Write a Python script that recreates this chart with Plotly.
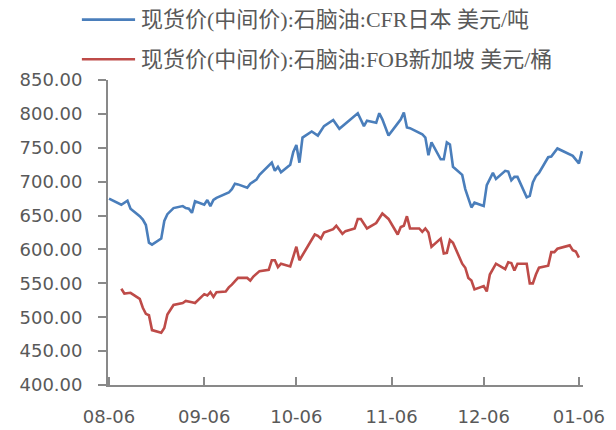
import plotly.graph_objects as go

# ---- data ----
cfr_japan_dates = [
    "2021-08-06", "2021-08-10", "2021-08-12", "2021-08-13", "2021-08-16", "2021-08-17",
    "2021-08-18", "2021-08-19", "2021-08-20", "2021-08-23", "2021-08-24", "2021-08-25",
    "2021-08-27", "2021-08-30", "2021-08-31", "2021-09-01", "2021-09-02", "2021-09-03",
    "2021-09-06", "2021-09-07", "2021-09-08", "2021-09-09", "2021-09-10", "2021-09-14",
    "2021-09-15", "2021-09-16", "2021-09-17", "2021-09-20", "2021-09-21", "2021-09-23",
    "2021-09-24", "2021-09-28", "2021-09-29", "2021-09-30", "2021-10-01", "2021-10-04",
    "2021-10-05", "2021-10-06", "2021-10-07", "2021-10-08", "2021-10-11", "2021-10-13",
    "2021-10-15", "2021-10-18", "2021-10-20", "2021-10-22", "2021-10-26", "2021-10-28",
    "2021-10-29", "2021-11-01", "2021-11-02", "2021-11-03", "2021-11-05", "2021-11-08",
    "2021-11-09", "2021-11-10", "2021-11-11", "2021-11-12", "2021-11-16", "2021-11-17",
    "2021-11-18", "2021-11-19", "2021-11-22", "2021-11-23", "2021-11-24", "2021-11-25",
    "2021-11-26", "2021-11-29", "2021-11-30", "2021-12-02", "2021-12-03", "2021-12-06",
    "2021-12-07", "2021-12-09", "2021-12-10", "2021-12-13", "2021-12-14", "2021-12-15",
    "2021-12-16", "2021-12-17", "2021-12-20", "2021-12-21", "2021-12-22", "2021-12-23",
    "2021-12-24", "2021-12-27", "2021-12-28", "2021-12-30", "2022-01-03", "2022-01-04",
    "2022-01-06", "2022-01-07",
]
cfr_japan_values = [
    675, 666, 672, 660, 649, 644,
    636, 610, 607, 616, 642, 652,
    661, 664, 661, 660, 654, 671,
    666, 673, 664, 673, 676, 684,
    689, 697, 696, 691, 697, 703,
    710, 728, 716, 722, 714, 725,
    744, 754, 728, 765, 774, 768,
    782, 791, 778, 786, 801, 782,
    790, 787, 801, 792, 768, 786,
    792, 802, 780, 779, 770, 765,
    739, 758, 733, 733, 758, 755,
    722, 710, 689, 662, 669, 664,
    695, 713, 704, 716, 715, 702,
    707, 707, 677, 679, 699, 708,
    713, 736, 737, 749, 740, 738,
    727, 745,
]

fob_singapore_dates = [
    "2021-08-10", "2021-08-11", "2021-08-13", "2021-08-16", "2021-08-17", "2021-08-18",
    "2021-08-19", "2021-08-20", "2021-08-23", "2021-08-24", "2021-08-25", "2021-08-27",
    "2021-08-30", "2021-08-31", "2021-09-02", "2021-09-03", "2021-09-06", "2021-09-07",
    "2021-09-08", "2021-09-09", "2021-09-10", "2021-09-13", "2021-09-14", "2021-09-15",
    "2021-09-17", "2021-09-20", "2021-09-21", "2021-09-22", "2021-09-24", "2021-09-27",
    "2021-09-28", "2021-09-29", "2021-09-30", "2021-10-01", "2021-10-04", "2021-10-05",
    "2021-10-06", "2021-10-07", "2021-10-12", "2021-10-13", "2021-10-14", "2021-10-15",
    "2021-10-18", "2021-10-19", "2021-10-21", "2021-10-22", "2021-10-25", "2021-10-26",
    "2021-10-27", "2021-10-29", "2021-11-01", "2021-11-03", "2021-11-05", "2021-11-08",
    "2021-11-09", "2021-11-10", "2021-11-11", "2021-11-12", "2021-11-15", "2021-11-16",
    "2021-11-17", "2021-11-18", "2021-11-19", "2021-11-22", "2021-11-23", "2021-11-24",
    "2021-11-25", "2021-11-26", "2021-11-29", "2021-11-30", "2021-12-01", "2021-12-02",
    "2021-12-03", "2021-12-06", "2021-12-07", "2021-12-08", "2021-12-10", "2021-12-13",
    "2021-12-14", "2021-12-15", "2021-12-16", "2021-12-17", "2021-12-20", "2021-12-21",
    "2021-12-22", "2021-12-23", "2021-12-24", "2021-12-27", "2021-12-28", "2021-12-29",
    "2021-12-30", "2022-01-03", "2022-01-04", "2022-01-05", "2022-01-06",
]
fob_singapore_values = [
    542, 535, 536, 527, 514, 505,
    503, 481, 477, 484, 504, 518,
    521, 524, 522, 521, 534, 532,
    537, 530, 537, 538, 544, 548,
    558, 558, 554, 560, 568, 570,
    584, 584, 574, 579, 575, 590,
    604, 584, 622, 620, 616, 625,
    630, 635, 623, 627, 631, 645,
    645, 631, 639, 653, 645, 622,
    633, 635, 649, 631, 631, 626,
    631, 625, 604, 616, 594, 595,
    614, 610, 579, 573, 558, 554,
    541, 546, 538, 563, 579, 571,
    581, 580, 569, 579, 579, 550,
    550, 563, 573, 576, 596, 596,
    601, 606, 599, 597, 588,
]

series_names = [
    "现货价(中间价):石脑油:CFR日本 美元/吨",
    "现货价(中间价):石脑油:FOB新加坡 美元/桶",
]
series_colors = ["#4A7EBB", "#BE4B48"]
x_tick_dates = ["2021-08-06", "2021-09-06", "2021-10-06", "2021-11-06", "2021-12-06", "2022-01-06"]
x_tick_labels = ["08-06", "09-06", "10-06", "11-06", "12-06", "01-06"]

# ---- figure ----
AXIS_COLOR = "#898989"
TICK_FONT = dict(family="DejaVu Sans", size=18, color="#595959")
LEGEND_FONT = dict(family="Liberation Serif, Noto Sans CJK SC", size=22, color="#595959")

fig = go.Figure()
fig.add_trace(go.Scatter(
    x=cfr_japan_dates, y=cfr_japan_values, mode="lines", name=series_names[0],
    line=dict(color=series_colors[0], width=2.6),
))
fig.add_trace(go.Scatter(
    x=fob_singapore_dates, y=fob_singapore_values, mode="lines", name=series_names[1],
    line=dict(color=series_colors[1], width=2.6),
))

# legend drawn as sample lines + text above the plot area (two rows)
legend_rows_y = [1.198, 1.068]
shapes = []
annotations = []
for name, color, yy in zip(series_names, series_colors, legend_rows_y):
    shapes.append(dict(type="line", xref="paper", yref="paper",
                       x0=-0.055, x1=0.057, y0=yy, y1=yy,
                       line=dict(color=color, width=2.6)))
    annotations.append(dict(xref="paper", yref="paper", x=0.066, y=yy,
                            xanchor="left", yanchor="middle", showarrow=False,
                            text=name, font=LEGEND_FONT))

fig.update_layout(
    width=616, height=430,
    margin=dict(l=108, r=33, t=80, b=45, autoexpand=False),
    paper_bgcolor="white", plot_bgcolor="white",
    showlegend=False,
    shapes=shapes, annotations=annotations,
    xaxis=dict(
        type="date",
        range=["2021-08-05 16:00", "2022-01-07 08:00"],
        tickmode="array", tickvals=x_tick_dates, ticktext=x_tick_labels,
        ticks="inside", ticklen=8, tickwidth=1.5, tickcolor=AXIS_COLOR,
        showline=True, linecolor=AXIS_COLOR, linewidth=1.8,
        showgrid=False, zeroline=False,
        tickfont=TICK_FONT, ticklabelstandoff=14,
    ),
    yaxis=dict(
        range=[400, 850], dtick=50, tick0=400, tickformat=".2f",
        ticks="outside", ticklen=8, tickwidth=1.5, tickcolor=AXIS_COLOR,
        showline=True, linecolor=AXIS_COLOR, linewidth=1.8,
        showgrid=False, zeroline=False,
        tickfont=TICK_FONT, ticklabelstandoff=12,
    ),
)

fig.write_html("out.html", config={"displayModeBar": False},
               post_script="document.body.style.margin='0';")
